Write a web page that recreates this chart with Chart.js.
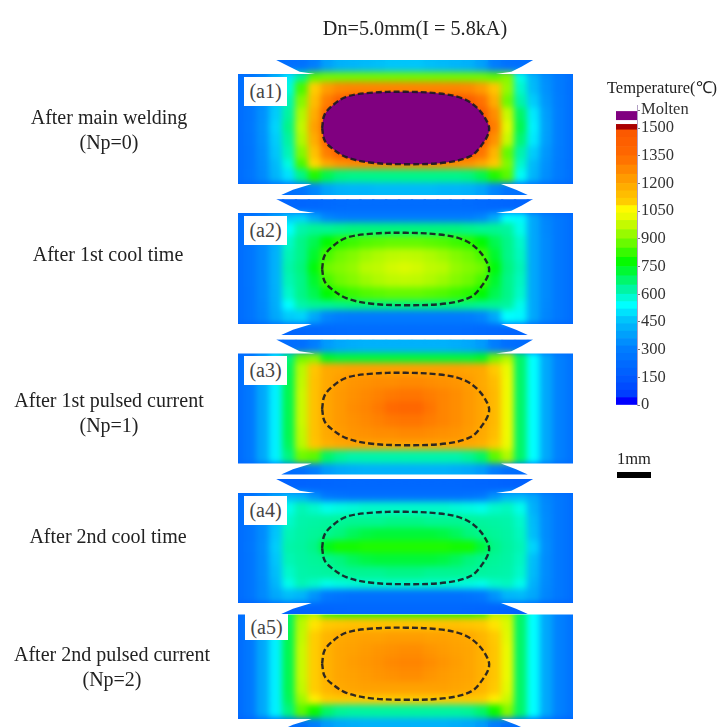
<!DOCTYPE html>
<html><head><meta charset="utf-8">
<script src="https://cdn.jsdelivr.net/npm/chart.js@4"></script>
<style>
html,body{margin:0;padding:0;background:#fff;width:721px;height:727px;overflow:hidden}
#page{position:relative;width:721px;height:727px;filter:blur(0.55px)}
canvas{position:absolute}
.t{position:absolute;font-family:"Liberation Serif",serif;color:#222;white-space:nowrap;transform:translate(-50%,-50%)}
.box{position:absolute;background:#fff;font-family:"Liberation Serif",serif;color:#444;font-size:20px;display:flex;align-items:center;justify-content:center}
</style></head><body><div id="page"></div>
<script>
// ---- text ----
const chartTitle = "Dn=5.0mm(I = 5.8kA)";
const stageNames = ["After main welding","After 1st cool time","After 1st pulsed current","After 2nd cool time","After 2nd pulsed current"];
const stageNotes = ["(Np=0)","","(Np=1)","","(Np=2)"];
const panelTags = ["(a1)","(a2)","(a3)","(a4)","(a5)"];
const legendTitle = "Temperature(℃)";
const moltenLabel = "Molten";
const scaleBarLabel = "1mm";
const colorbarTicks = [0,150,300,450,600,750,900,1050,1200,1350,1500];
const moltenTick = 1597;

// ---- grid axes in mm from the weld centre ----
const cellX = [-5,-4.615,-4.231,-3.846,-3.462,-3.077,-2.692,-2.308,-1.923,-1.538,-1.154,-0.769,-0.385,0,0.385,0.769,1.154,1.538,1.923,2.308,2.692,3.077,3.462,3.846,4.231,4.615,5];
const cellY = [1.85,1.45,1.155,0.77,0.385,0,-0.385,-0.77,-1.155,-1.45,-1.85];

// ---- temperatures (deg C), top row to bottom row ----
const tempsA1 = [
[200,210,220,230,240,250,300,380,420,430,440,450,460,460,460,450,440,430,420,380,300,250,240,230,220,210,200],
[230,270,330,430,510,640,860,880,880,880,880,880,880,880,880,880,880,880,880,880,860,900,560,430,340,290,250],
[225,265,335,440,570,840,1100,1220,1270,1280,1280,1280,1280,1280,1280,1280,1280,1280,1270,1220,1120,920,590,440,345,290,245],
[225,265,340,460,610,900,1140,1300,1420,1500,1500,1500,1500,1500,1500,1500,1500,1500,1440,1330,1180,880,620,470,360,295,250],
[225,270,345,470,630,950,1180,1370,1500,1500,1500,1500,1500,1500,1500,1500,1500,1500,1500,1450,1260,980,680,510,375,300,250],
[225,275,350,480,650,970,1210,1400,1500,1500,1500,1500,1500,1500,1500,1500,1500,1500,1500,1480,1300,1010,700,520,380,300,250],
[225,270,345,470,630,950,1180,1370,1500,1500,1500,1500,1500,1500,1500,1500,1500,1500,1500,1440,1250,980,670,510,375,300,250],
[225,265,340,460,610,900,1130,1300,1420,1500,1500,1500,1500,1500,1500,1500,1500,1500,1440,1320,1160,870,620,470,360,295,250],
[225,265,335,440,570,840,1090,1190,1240,1260,1270,1280,1280,1280,1280,1280,1270,1260,1240,1190,1110,900,590,440,345,290,245],
[230,270,330,430,500,650,800,700,660,650,650,650,650,650,650,650,650,650,660,700,800,860,550,430,340,290,250],
[210,215,225,235,245,260,320,390,420,430,430,440,440,440,440,440,430,430,420,390,320,260,245,235,225,215,210]];
const tempsA2 = [
[180,185,190,195,200,200,210,220,225,230,230,230,230,230,230,230,230,230,225,220,210,200,195,190,185,180,180],
[225,265,320,400,470,480,400,320,300,290,290,290,290,290,290,290,290,290,300,320,400,540,530,400,320,280,240],
[225,265,325,410,540,620,640,640,650,660,660,660,660,660,660,660,660,660,650,640,640,630,560,400,325,280,240],
[225,265,330,415,590,650,700,770,810,830,850,860,870,870,870,860,850,830,810,770,700,650,590,400,330,280,240],
[225,270,330,420,610,650,730,840,880,900,930,950,965,970,965,950,930,900,880,840,730,650,600,400,330,280,240],
[225,270,330,420,620,660,760,880,900,920,960,970,990,1000,990,970,960,920,900,880,760,660,610,400,330,280,240],
[225,270,330,420,610,650,730,840,880,900,930,950,965,970,965,950,930,900,880,840,730,650,600,400,330,280,240],
[225,265,330,415,590,650,700,770,810,830,850,860,870,870,870,860,850,830,810,770,700,650,590,400,330,280,240],
[225,265,325,410,540,620,640,640,650,660,660,660,660,660,660,660,660,660,650,640,640,630,560,400,325,280,240],
[225,265,320,400,470,480,400,320,300,290,290,290,290,290,290,290,290,290,300,320,400,540,530,400,320,280,240],
[180,185,190,195,200,200,210,220,225,230,230,230,230,230,230,230,230,230,225,220,210,200,195,190,185,180,180]];
const tempsA3 = [
[190,200,210,220,230,240,300,370,400,410,420,420,420,420,420,420,420,410,400,370,300,240,230,220,210,200,190],
[225,280,400,520,660,880,900,740,720,720,720,720,720,720,720,720,720,720,720,740,880,950,680,540,400,310,260],
[225,280,400,520,690,960,1120,1190,1200,1210,1210,1210,1210,1210,1210,1210,1210,1210,1200,1190,1110,1020,680,540,400,310,260],
[225,280,400,520,700,970,1130,1190,1220,1240,1250,1260,1260,1270,1270,1260,1250,1240,1220,1190,1140,1030,680,540,400,310,260],
[225,280,400,520,700,980,1130,1200,1230,1250,1270,1290,1310,1320,1320,1300,1280,1260,1230,1200,1150,1030,680,540,400,310,260],
[225,280,400,520,700,980,1130,1200,1230,1260,1280,1310,1350,1370,1370,1320,1280,1260,1230,1200,1150,1030,680,540,400,310,260],
[225,280,400,520,700,980,1130,1200,1230,1250,1270,1290,1310,1320,1320,1300,1280,1260,1230,1200,1150,1030,680,540,400,310,260],
[225,280,400,520,700,970,1130,1190,1220,1240,1250,1260,1260,1270,1270,1260,1250,1240,1220,1190,1140,1030,680,540,400,310,260],
[225,280,400,520,690,960,1120,1170,1190,1200,1200,1200,1200,1200,1200,1200,1200,1200,1190,1170,1110,1020,680,540,400,310,260],
[225,280,400,520,660,880,860,680,640,620,620,620,620,620,620,620,620,620,640,680,860,950,680,540,400,310,260],
[190,200,210,220,230,240,300,370,400,410,420,420,420,420,420,420,420,410,400,370,300,240,230,220,210,200,190]];
const tempsA4 = [
[170,175,180,185,190,190,195,200,205,210,210,210,210,210,210,210,210,210,205,200,195,190,185,180,175,175,170],
[225,265,330,400,450,430,350,280,260,250,250,250,250,250,250,250,250,250,260,280,350,430,440,400,320,280,240],
[225,265,330,430,560,610,590,560,570,580,590,590,590,590,590,590,590,580,570,560,590,600,560,420,330,280,240],
[225,265,335,450,590,620,625,630,635,640,640,640,650,650,650,640,640,640,635,630,625,620,590,440,335,280,240],
[225,265,335,460,610,625,635,645,660,690,710,720,720,720,720,720,710,690,660,645,635,625,600,450,335,280,240],
[225,270,340,470,620,630,650,750,790,790,800,800,800,800,800,800,800,790,790,720,650,630,610,480,340,280,240],
[225,265,335,460,610,625,635,645,660,690,710,720,720,720,720,720,710,690,660,645,635,625,600,450,335,280,240],
[225,265,335,450,590,620,625,630,635,640,640,640,650,650,650,640,640,640,635,630,625,620,590,440,335,280,240],
[225,265,330,430,560,610,590,560,570,580,590,590,590,590,590,590,590,580,570,560,590,600,560,420,330,280,240],
[225,265,330,400,450,430,350,280,260,250,250,250,250,250,250,250,250,250,260,280,350,430,440,400,320,280,240],
[170,175,180,185,190,190,195,200,205,210,210,210,210,210,210,210,210,210,205,200,195,190,185,180,175,175,170]];
const tempsA5 = [
[190,200,210,220,230,240,300,370,400,410,420,420,420,420,420,420,420,410,400,370,300,240,230,220,210,200,190],
[225,280,400,520,680,900,950,820,800,800,800,800,800,800,800,800,800,800,800,820,950,950,680,540,400,310,260],
[225,280,400,520,690,960,1080,1110,1120,1130,1130,1130,1130,1130,1130,1130,1130,1130,1120,1110,1080,1000,680,540,400,310,260],
[225,280,400,520,700,970,1100,1160,1190,1200,1210,1210,1220,1220,1220,1210,1210,1200,1190,1160,1110,1010,680,540,400,310,260],
[225,280,400,520,700,980,1100,1170,1200,1210,1225,1240,1250,1260,1260,1240,1225,1210,1200,1170,1120,1020,680,540,400,310,260],
[225,280,400,520,700,980,1100,1170,1200,1220,1235,1250,1270,1280,1280,1260,1240,1220,1200,1170,1120,1020,680,540,400,310,260],
[225,280,400,520,700,980,1100,1170,1200,1210,1225,1240,1250,1260,1260,1240,1225,1210,1200,1170,1120,1020,680,540,400,310,260],
[225,280,400,520,700,970,1100,1160,1190,1200,1210,1210,1210,1210,1210,1210,1210,1200,1190,1160,1110,1010,680,540,400,310,260],
[225,280,400,520,690,930,1070,1100,1110,1110,1110,1110,1110,1110,1110,1110,1110,1110,1110,1100,1070,980,680,540,400,310,260],
[225,280,400,520,660,860,780,680,640,630,630,630,630,630,630,630,630,630,640,680,780,900,680,540,400,310,260],
[190,200,210,220,230,240,300,370,400,410,420,420,420,420,420,420,420,410,400,370,300,240,230,220,210,200,190]];
const panelTemps = [tempsA1,tempsA2,tempsA3,tempsA4,tempsA5];

// ---- molten-nugget boundary (mm) ----
const nuggetX = [-2.49,-2.42,-2.17,-1.77,-1.07,0,1.01,1.71,2.16,2.46,2.49,2.31,1.96,1.21,0,-1.07,-1.77,-2.2,-2.42,-2.49];
const nuggetY = [0,0.39,0.68,0.93,1.05,1.08,1.03,0.88,0.58,0.14,-0.11,-0.46,-0.83,-1.03,-1.08,-1.03,-0.87,-0.6,-0.36,0];

// ---- electrode outlines (mm, y measured away from the sheet face) ----
const topElectrodeX = [-2.7,-3.16,-3.46,-3.86,3.81,3.46,3.16,2.7];
const topElectrodeY = [0,0.07,0.22,0.42,0.42,0.22,0.07,0];
const botElectrodeX = [-2.8,-3.36,-3.71,3.65,3.3,2.85];
const botElectrodeY = [0,0.17,0.33,0.33,0.17,0];

// ---- colour scale ----
const rampT = [0,20,150,300,450,540,620,770,900,1020,1060,1100,1200,1350,1500];
const rampR = [0,0,0,0,0,0,0,0,130,235,255,255,255,255,250];
const rampG = [0,50,90,125,190,255,245,250,250,250,250,205,165,105,85];
const rampB = [255,255,255,255,250,255,170,0,0,0,0,0,0,0,0];
const bandEdges = [0,40,80,120,160,200,240,280,320,360,400,440,480,520,560,600,650,700,750,800,850,900,950,1000,1040,1080,1120,1160,1200,1250,1300,1350,1400,1450,1490];
const hotBand = [1490,1520];
const moltenBand = [1545,1590];
const moltenColor = "rgb(128,0,128)";
const hotColor = "rgb(170,0,0)";

function tempColor(t){
  let i=0; while(i<rampT.length-2 && t>rampT[i+1]) i++;
  const f=Math.min(1,Math.max(0,(t-rampT[i])/(rampT[i+1]-rampT[i])));
  const m=a=>Math.round(a[i]+(a[i+1]-a[i])*f);
  return `rgb(${m(rampR)},${m(rampG)},${m(rampB)})`;
}

// ---- layout (px) ----
const MM = 33.5;
const panelTop = [74,213,353,493,614];
const panelBottom = [184,324,463,603,719];
const nuggetCentre = [128,269,408.5,548,663.5];
const hasTopElectrode = [true,true,true,true,false];
const labelY = [[117,142],[254],[400,425],[536],[654,679]];
const labelX = [109,108,109,108,112];
const page = document.getElementById('page');

function addText(s,x,y,size,col){const d=document.createElement('div');d.className='t';d.textContent=s;d.style.left=x+'px';d.style.top=y+'px';d.style.fontSize=size+'px';if(col)d.style.color=col;page.appendChild(d);}

const maskAndBlur = {
  id:'maskAndBlur',
  afterDatasetDraw(chart,args){
    if(args.index!==0) return;
    const ctx=chart.ctx, c=chart.canvas, xs=chart.scales.x, ys=chart.scales.y, o=chart.options.plugins.maskAndBlur;
    ctx.save();
    ctx.filter='blur(3px)';
    ctx.drawImage(c,0,0);
    ctx.filter='blur(0.6px)';
    ctx.globalCompositeOperation='destination-in';
    ctx.fillStyle='#000';
    ctx.beginPath();
    ctx.rect(0,ys.getPixelForValue(o.hi),c.width,ys.getPixelForValue(o.lo)-ys.getPixelForValue(o.hi));
    if(o.top){
      topElectrodeX.forEach((x,i)=>{const px=xs.getPixelForValue(x),py=ys.getPixelForValue(o.hi+topElectrodeY[i]);i?ctx.lineTo(px,py):ctx.moveTo(px,py);});
      ctx.closePath();
    }
    botElectrodeX.forEach((x,i)=>{const px=xs.getPixelForValue(x),py=ys.getPixelForValue(o.lo-botElectrodeY[i]);i?ctx.lineTo(px,py):ctx.moveTo(px,py);});
    ctx.closePath();
    ctx.fill('nonzero');
    ctx.restore();
  }
};

const order=[4,3,2,1,0];
order.forEach(p=>{
  const cy=nuggetCentre[p];
  const topPx=cy-70, botPx=Math.min(727,cy+70);
  const cv=document.createElement('canvas');
  cv.width=335; cv.height=botPx-topPx;
  cv.style.left='238px'; cv.style.top=topPx+'px';
  page.appendChild(cv);
  const cells=[], colors=[];
  panelTemps[p].forEach((row,r)=>row.forEach((t,c)=>{cells.push({x:cellX[c],y:cellY[r]});colors.push(tempColor(t));}));
  const outline=nuggetX.map((x,i)=>({x,y:nuggetY[i]}));
  new Chart(cv,{type:'scatter',
    data:{datasets:[
      {label:'Temperature',data:cells,pointStyle:'rect',pointRadius:10.8,pointBorderWidth:0,pointBackgroundColor:colors,showLine:false,order:2},
      {label:'Molten boundary',data:outline,showLine:true,tension:0.35,pointRadius:0,borderColor:'rgba(25,25,35,0.9)',borderWidth:2.4,borderDash:[6,3],
       fill:p===0?'shape':false,backgroundColor:moltenColor,order:1}
    ]},
    options:{responsive:false,animation:false,events:[],layout:{padding:0,autoPadding:false},
      plugins:{legend:{display:false},tooltip:{enabled:false},
        maskAndBlur:{hi:(cy-panelTop[p])/MM,lo:-(panelBottom[p]-cy)/MM,top:hasTopElectrode[p]}},
      scales:{x:{type:'linear',min:-5,max:5,display:false},y:{type:'linear',min:-(botPx-cy)/MM,max:(cy-topPx)/MM,display:false}}},
    plugins:[maskAndBlur]});
  const b=document.createElement('div');b.className='box';b.textContent=panelTags[p];
  b.style.left=(p===4?245:244)+'px';b.style.top=(panelTop[p]+(p===4?0:3))+'px';b.style.width='43px';b.style.height=(p===4?26:29)+'px';
  page.appendChild(b);
});

// ---- colour bar ----
const cb=document.createElement('canvas');
cb.width=105;cb.height=325;cb.style.left='616px';cb.style.top='95px';page.appendChild(cb);
const bandSets=[];
bandEdges.forEach((lo,i)=>{
  const hi=i+1<bandEdges.length?bandEdges[i+1]:lo;
  if(hi>lo) bandSets.push({data:[[lo,hi]],backgroundColor:i===0?'rgb(0,0,255)':tempColor((lo+hi)/2)});
});
bandSets.push({data:[hotBand],backgroundColor:hotColor});
bandSets.push({data:[moltenBand],backgroundColor:moltenColor});
new Chart(cb,{type:'bar',data:{labels:['T'],datasets:bandSets},
  options:{responsive:false,animation:false,events:[],layout:{padding:{top:9,bottom:15,left:0,right:0}},
    datasets:{bar:{grouped:false,barPercentage:1,categoryPercentage:1,borderWidth:0}},
    plugins:{legend:{display:false},tooltip:{enabled:false}},
    scales:{x:{display:false},
      y:{position:'right',min:0,max:1620,
        afterFit(s){s.width=84;},
        afterBuildTicks(s){s.ticks=colorbarTicks.concat([moltenTick]).map(v=>({value:v}));},
        border:{color:'rgba(170,150,190,0.9)'},
        grid:{drawOnChartArea:false,tickLength:3,color:'#777'},
        ticks:{padding:1,autoSkip:false,color:'#333',font:{family:'"Liberation Serif",serif',size:16.5},
          callback:v=>v===moltenTick?moltenLabel:String(v)}}}}});

// ---- text ----
addText(chartTitle,415,28,20.2);
stageNames.forEach((s,i)=>{
  addText(s,labelX[i],labelY[i][0],20);
  if(stageNotes[i]) addText(stageNotes[i],labelX[i],labelY[i][1],20);
});
addText(legendTitle,662,86,16.5);
addText(scaleBarLabel,634,459,16.5);
const sb=document.createElement('div');
sb.style.cssText='position:absolute;left:617px;top:472px;width:34px;height:6px;background:#000';
page.appendChild(sb);
</script></body></html>
